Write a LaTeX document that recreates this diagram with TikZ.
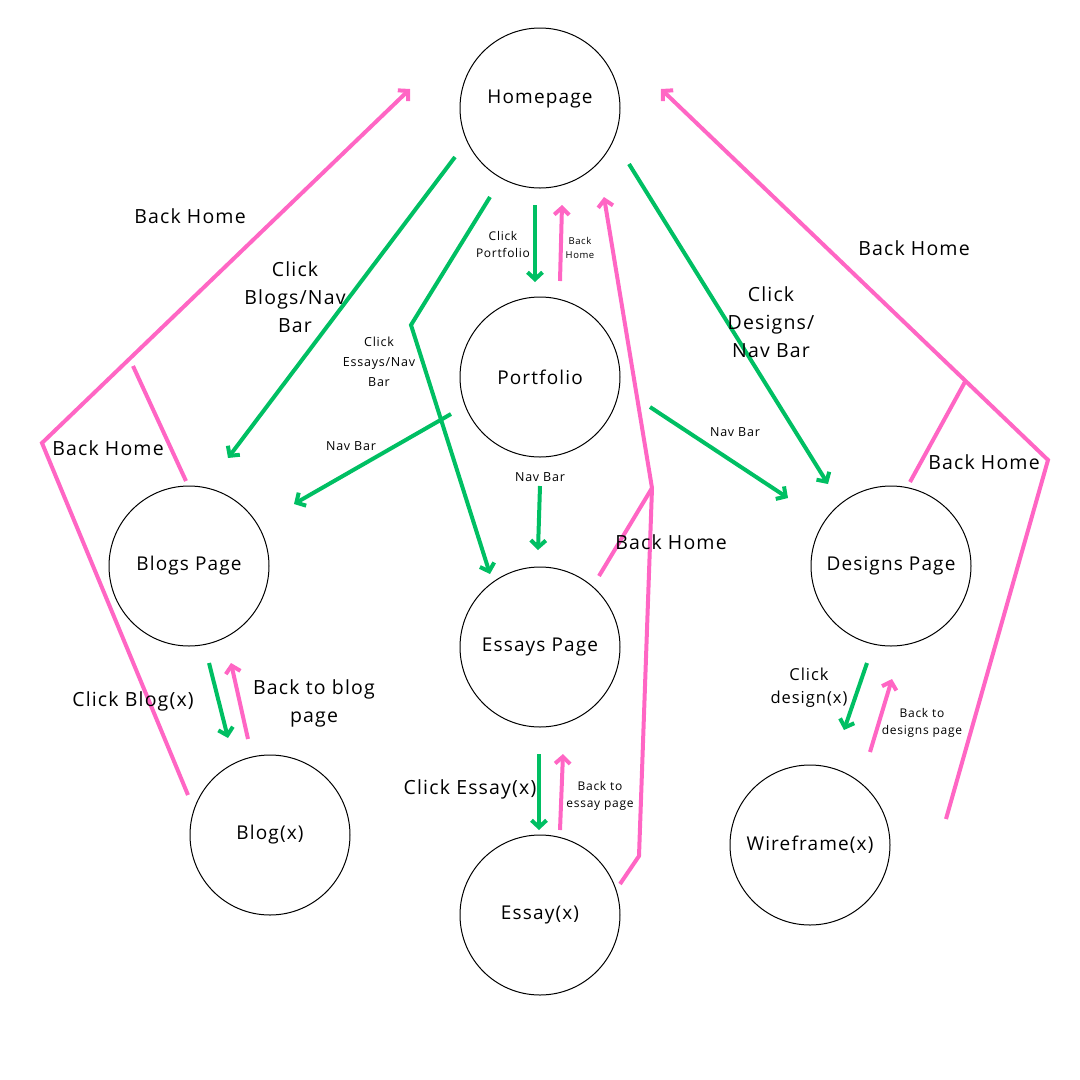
\documentclass[tikz,border=0pt]{standalone}
\usepackage{fontspec}
\setmainfont{Open Sans}[LetterSpace=6]
\usetikzlibrary{arrows.meta}
\definecolor{navgreen}{HTML}{00BF63}
\definecolor{backpink}{HTML}{FF66C4}
\tikzset{>={Straight Barb[length=7pt,width=15pt]}}
\tikzset{
  pagefont/.style={font=\fontsize{19}{22}\selectfont},
  page/.style={draw, circle, line width=1pt, minimum size=160pt, inner sep=0pt, pagefont},
  go/.style={->, navgreen, line width=4pt},
  back/.style={->, backpink, line width=4pt},
  big/.style={align=center, font=\fontsize{19.5}{28}\selectfont},
  small/.style={align=center, font=\fontsize{12.5}{20}\selectfont},
  tiny/.style={align=center, font=\fontsize{9.5}{14}\selectfont}
}

\begin{document}
\begin{tikzpicture}[x=1pt, y=-1pt]
\useasboundingbox (0,0) rectangle (1080,1080);
% pages
\node [page, label={[pagefont, yshift=9pt]center:Homepage}] (home) at (540,108) {};
\node [page] (port) at (540,377) {Portfolio};
\node [page] (blogs) at (189,566) {Blogs Page};
\node [page] (essays) at (540,647) {Essays Page};
\node [page] (designs) at (891,566) {Designs Page};
\node [page] (blog) at (270,835) {Blog(x)};
\node [page] (essay) at (540,915) {Essay(x)};
\node [page] (wire) at (810,845) {Wireframe(x)};

% ends of the green lines
\coordinate (h1) at (455,157); \coordinate (b1) at (228,458);
\coordinate (h2) at (490,197); \coordinate (k2) at (411,325); \coordinate (e2) at (490,574);
\coordinate (h3) at (535,205); \coordinate (p3) at (535,282);
\coordinate (h4) at (629,164); \coordinate (d4) at (828,484);
\coordinate (p5) at (451,414); \coordinate (b5) at (294,504);
\coordinate (p6) at (540,486); \coordinate (e6) at (538,550);
\coordinate (p7) at (650,407); \coordinate (d7) at (788,498);
\coordinate (b8) at (209,663); \coordinate (x8) at (228,738);
\coordinate (e9) at (539,754); \coordinate (x9) at (539,830);
\coordinate (d10) at (867,663); \coordinate (w10) at (844,730);

\draw [go] (h1) -- (b1);
\draw [go] (h2) -- (k2) -- (e2);
\draw [go] (h3) -- (p3);
\draw [go] (h4) -- (d4);
\draw [go] (p5) -- (b5);
\draw [go] (p6) -- (e6);
\draw [go] (p7) -- (d7);
\draw [go] (b8) -- (x8);
\draw [go] (e9) -- (x9);
\draw [go] (d10) -- (w10);

% ends of the pink lines
\coordinate (p11) at (560,281); \coordinate (h11) at (562,205);
\coordinate (x12) at (248,739); \coordinate (b12) at (231,663);
\coordinate (x13) at (560,830); \coordinate (e13) at (563,754);
\coordinate (w14) at (870,752); \coordinate (d14) at (892,679);
\coordinate (x15) at (188,795); \coordinate (k15) at (42,443); \coordinate (h15) at (410,89);
\coordinate (b15) at (186,481); \coordinate (j15) at (133,366);
\coordinate (w16) at (946,819); \coordinate (k16) at (1048,460); \coordinate (h16) at (661,89);
\coordinate (d16) at (910,482); \coordinate (j16) at (966,380);
\coordinate (x17) at (620,884); \coordinate (k17) at (639,856); \coordinate (j17) at (652,488);
\coordinate (h17) at (604,197); \coordinate (e17) at (599,576);

\draw [back] (p11) -- (h11);
\draw [back] (x12) -- (b12);
\draw [back] (x13) -- (e13);
\draw [back] (w14) -- (d14);
\draw [back] (x15) -- (k15) -- (h15);
\draw [back, -] (b15) -- (j15);
\draw [back] (w16) -- (k16) -- (h16);
\draw [back, -] (d16) -- (j16);
\draw [back] (x17) -- (k17) -- (j17) -- (h17);
\draw [back, -] (e17) -- (j17);

% labels
\node [big] at (190,216) {Back Home};
\node [big] at (295,297) {Click\\Blogs/Nav\\Bar};
\node [small] at (379,362) {Click\\Essays/Nav\\Bar};
\node [small, font=\fontsize{12}{17}\selectfont] at (503,244) {Click\\Portfolio};
\node [tiny] at (580,248) {Back\\Home};
\node [big] at (771,322) {Click\\Designs/\\Nav Bar};
\node [big] at (914,248) {Back Home};
\node [big] at (108,448) {Back Home};
\node [small] at (351,446) {Nav Bar};
\node [small, fill=white, inner sep=1pt] at (540,477) {Nav Bar};
\node [small] at (735,432) {Nav Bar};
\node [big] at (671,542) {Back Home};
\node [big] at (984,462) {Back Home};
\node [big] at (133,701) {Click Blog(x)};
\node [big] at (314,703) {Back to blog\\page};
\node [big] at (470,789) {Click Essay(x)};
\node [small, font=\fontsize{12}{17}\selectfont] at (600,796) {Back to\\essay page};
\node [big, font=\fontsize{16.5}{23}\selectfont] at (809,688) {Click\\design(x)};
\node [small, font=\fontsize{12}{17}\selectfont] at (922,723) {Back to\\designs page};
\end{tikzpicture}
\end{document}
